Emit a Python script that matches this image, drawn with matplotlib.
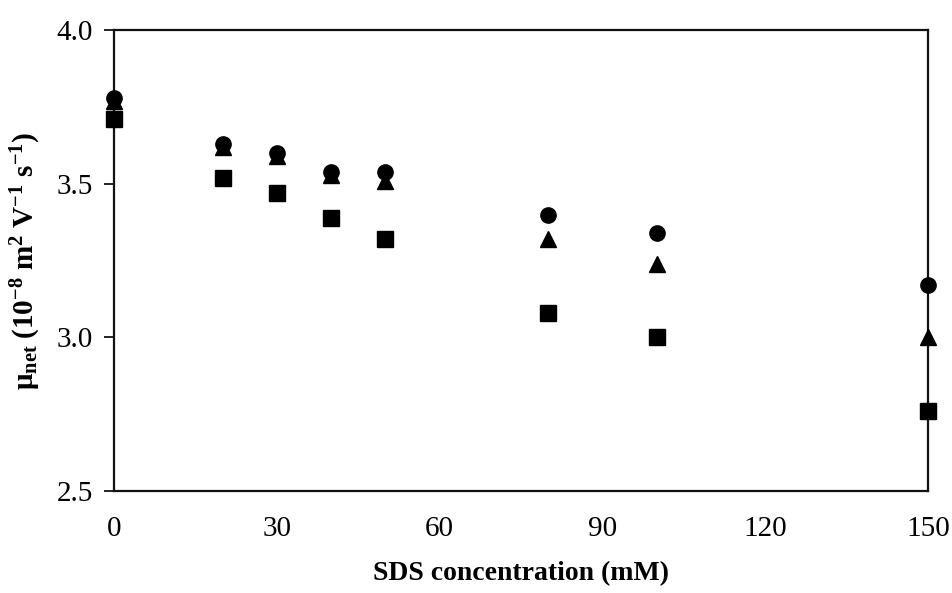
import matplotlib.pyplot as plt

plt.rcParams['font.family'] = 'Liberation Serif'
plt.rcParams['mathtext.fontset'] = 'custom'
plt.rcParams['mathtext.rm'] = 'Liberation Serif'
plt.rcParams['mathtext.bf'] = 'Liberation Serif:bold'
plt.rcParams['mathtext.it'] = 'Liberation Serif:italic'

# SDS-koncentration (mM) og mobilitet
sds = [0, 20, 30, 40, 50, 80, 100, 150]
circle_vals = [3.78, 3.63, 3.60, 3.54, 3.54, 3.40, 3.34, 3.17]
triangle_vals = [3.77, 3.62, 3.59, 3.53, 3.51, 3.32, 3.24, 3.00]
square_vals = [3.71, 3.52, 3.47, 3.39, 3.32, 3.08, 3.00, 2.76]

x_ticks = [0, 30, 60, 90, 120, 150]
y_ticks = [2.5, 3.0, 3.5, 4.0]

fig = plt.figure(figsize=(9.53, 5.93), dpi=100)
ax = fig.add_axes([0.1196, 0.172, 0.8542, 0.777])

ax.plot(sds, square_vals, 's', color='black', markersize=11, clip_on=False, zorder=3)
ax.plot(sds, triangle_vals, '^', color='black', markersize=11, clip_on=False, zorder=3)
ax.plot(sds, circle_vals, 'o', color='black', markersize=11, clip_on=False, zorder=4)

ax.set_xlim(0, 150)
ax.set_ylim(2.5, 4.0)
ax.set_xticks(x_ticks)
ax.set_yticks(y_ticks)
ax.set_yticklabels([f"{v:.1f}" for v in y_ticks])

for sp in ax.spines.values():
    sp.set_linewidth(1.6)
    sp.set_color('#111111')

ax.tick_params(axis='x', length=0, pad=18, labelsize=21)
ax.tick_params(axis='y', length=7, width=1.2, direction='out', pad=8, labelsize=21)

ax.set_xlabel('SDS concentration (mM)', fontsize=20, fontweight='bold', labelpad=14)
ax.set_ylabel(r'$\mathbf{\mu_{net}\ (10^{-8}\ m^{2}\ V^{-1}\ s^{-1})}$', fontsize=21, labelpad=10)

plt.savefig('out.png', dpi=100)
